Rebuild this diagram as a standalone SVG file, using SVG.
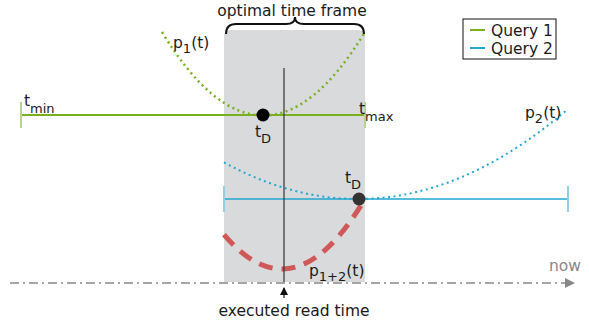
<svg xmlns="http://www.w3.org/2000/svg" width="589" height="324" viewBox="0 0 589 324">
<style>
text{font-family:"DejaVu Sans",sans-serif;font-size:15.5px;fill:#1a1a1a}
.sub{font-size:13px}
.g{stroke:#78b020;fill:none}
.b{stroke:#22a6d2;fill:none}
.tick-g{stroke:#b4d68c;stroke-width:2}
.tick-b{stroke:#8fd0e8;stroke-width:2}
</style>
<defs>
<marker id="ah" markerWidth="10" markerHeight="10" refX="9" refY="5" orient="auto" markerUnits="userSpaceOnUse">
<path d="M0,0 L10,5 L0,10 Z" fill="#888"/>
</marker>
<marker id="ak" markerWidth="8" markerHeight="10" refX="7" refY="4" orient="auto" markerUnits="userSpaceOnUse">
<path d="M0,0 L8,4 L0,8 Z" fill="#111"/>
</marker>
</defs>
<g id="frame">
<path d="M224,282 V36 Q224,30 230,30 H359 Q365,30 365,36 V282 Z" fill="#d9dadb"/>
<path d="M226,34 Q226,24 236,24 L286,24 Q295,24 295,17 Q295,24 304,24 L354,24 Q364,24 364,34" fill="none" stroke="#111" stroke-width="2"/>
<text x="292" y="16" text-anchor="middle">optimal time frame</text>
</g>
<g id="axis">
<line x1="10" y1="283" x2="574" y2="283" stroke="#888" stroke-width="1.5" stroke-dasharray="9,4,2,4" marker-end="url(#ah)"/>
<text x="549" y="271" style="fill:#888">now</text>
</g>
<g id="query1">
<line x1="21" y1="115" x2="365" y2="115" class="g" stroke-width="2"/>
<line x1="21" y1="102" x2="21" y2="128" class="tick-g"/>
<line x1="365" y1="102" x2="365" y2="128" class="tick-g"/>
<text x="24" y="106">t<tspan class="sub" dy="7">min</tspan></text>
<text x="359" y="114">t<tspan class="sub" dy="7">max</tspan></text>
</g>
<g id="query2">
<line x1="224" y1="199" x2="568" y2="199" class="b" stroke-width="1.5"/>
<line x1="224" y1="186" x2="224" y2="212" class="tick-b"/>
<line x1="568" y1="186" x2="568" y2="212" class="tick-b"/>
</g>
<g id="connectors">
<path d="M162,32 Q263.5,199 365,32" class="g" stroke-width="2.5" stroke-dasharray="2,3.5"/>
<path d="M224,162.4 Q396,256.4 568,109" class="b" stroke-width="2" stroke-dasharray="2,3.5"/>
<path d="M224,234.7 Q294.5,318.1 365,198.7" fill="none" stroke="#d05858" stroke-width="5" stroke-dasharray="14,9"/>
<line x1="284" y1="68" x2="284" y2="282" stroke="#333" stroke-width="1.2"/>
<line x1="284" y1="298" x2="284" y2="288" stroke="#111" stroke-width="1.2" marker-end="url(#ak)"/>
</g>
<g id="p1">
<text x="173" y="48">p<tspan class="sub" dy="5">1</tspan><tspan dy="-5">(t)</tspan></text>
<circle cx="263" cy="115" r="6.5" fill="#000"/>
<text x="255" y="137">t<tspan class="sub" dy="6">D</tspan></text>
</g>
<g id="p2">
<text x="525" y="118">p<tspan class="sub" dy="5">2</tspan><tspan dy="-5">(t)</tspan></text>
<circle cx="359" cy="199" r="6.5" fill="#333"/>
<text x="345" y="183">t<tspan class="sub" dy="6">D</tspan></text>
</g>
<g id="p12">
<text x="309" y="276">p<tspan class="sub" dy="5">1+2</tspan><tspan dy="-5">(t)</tspan></text>
</g>
<g id="readtime">
<text x="294" y="316" text-anchor="middle">executed read time</text>
</g>
<g id="legend">
<rect x="463" y="19" width="93" height="40" fill="#fff" stroke="#111" stroke-width="1"/>
<line x1="470" y1="30" x2="485" y2="30" class="g" stroke-width="2"/>
<text x="491" y="36">Query 1</text>
<line x1="470" y1="48" x2="485" y2="48" class="b" stroke-width="2"/>
<text x="491" y="54">Query 2</text>
</g>
</svg>
